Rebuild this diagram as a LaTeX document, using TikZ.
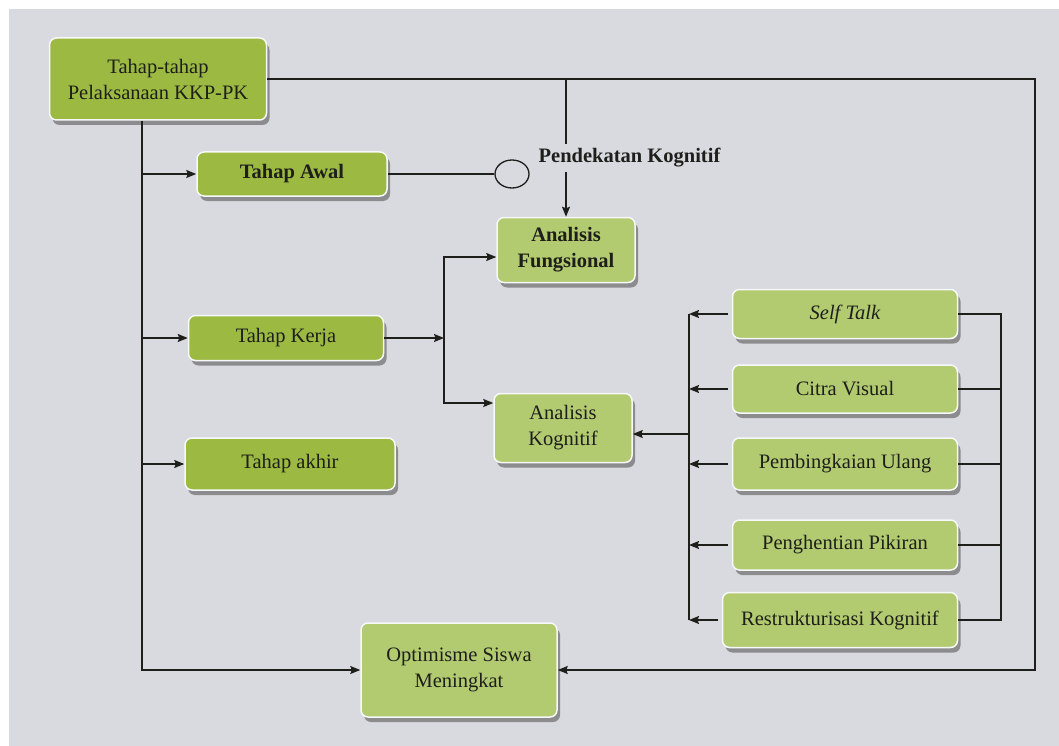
\documentclass[tikz,border=0pt]{standalone}
\usepackage{fontspec}
\setmainfont{Liberation Serif}
\usetikzlibrary{arrows.meta,shadows,shapes.geometric}
\definecolor{paper}{RGB}{216,218,224}
\definecolor{leafdark}{RGB}{156,186,66}
\definecolor{leaf}{RGB}{178,202,112}
\definecolor{ink}{RGB}{30,30,26}
\tikzset{
  box/.style={rectangle,rounded corners=7pt,fill=leaf,draw=white!80!paper,line width=1.5pt,
    drop shadow={shadow xshift=3pt,shadow yshift=-5pt,fill=black!55,opacity=.75},
    text=ink,align=center,inner sep=0pt,font=\fontsize{20.5}{26}\selectfont},
  boxdark/.style={box,fill=leafdark},
  boldtext/.style={font=\fontsize{20.5}{26}\selectfont\bfseries},
  arr/.style={-{Stealth[length=10pt,width=8pt,inset=1.5pt]}}
}
\begin{document}
\begin{tikzpicture}[x=1pt,y=-1pt,color=ink,line width=1.3pt]
            \fill[white] (0,0) rectangle (1059,746);
            \fill[paper] (9,9) rectangle (1059,746);
            \useasboundingbox (0,0) rectangle (1059,746);

            \node[boxdark,minimum width=217pt,minimum height=82pt] (tahap) at (158,79) {Tahap-tahap\\Pelaksanaan KKP-PK};
            \node[boxdark,boldtext,minimum width=190pt,minimum height=44pt] (awal) at (292,174) {Tahap Awal};
            \node[boxdark,minimum width=195pt,minimum height=45pt] (kerja) at (286,338) {Tahap Kerja};
            \node[boxdark,minimum width=210pt,minimum height=52pt] (akhir) at (290,464) {Tahap akhir};
            \node[box,boldtext,minimum width=138pt,minimum height=65pt] (fungsi) at (566,250) {Analisis\\Fungsional};
            \node[box,minimum width=138pt,minimum height=69pt] (kognisi) at (563,428) {Analisis\\Kognitif};
            \node[box,minimum width=225pt,minimum height=49pt] (self) at (845,314) {\textit{Self Talk}};
            \node[box,minimum width=225pt,minimum height=48pt] (citra) at (845,389) {Citra Visual};
            \node[box,minimum width=225pt,minimum height=52pt] (bingkai) at (845,464) {Pembingkaian Ulang};
            \node[box,minimum width=225pt,minimum height=50pt] (henti) at (845,545) {Penghentian Pikiran};
            \node[box,minimum width=235pt,minimum height=55pt] (restr) at (840,620) {Restrukturisasi Kognitif};
            \node[box,minimum width=196pt,minimum height=94pt] (optim) at (459,670) {Optimisme Siswa\\Meningkat};
            \node[ellipse,draw,minimum width=34pt,minimum height=28pt,inner sep=0pt] (bulat) at (512,174) {};
            \node[anchor=west,boldtext,inner sep=4pt] (pendekatan) at (534,158) {Pendekatan Kognitif};

            \coordinate (kiri) at (142,0);
            \coordinate (tengah) at (444,0);
            \coordinate (rapat) at (689,434);
            \coordinate (siku) at (1001,0);
            \coordinate (pojok) at (1035,670);

            \draw[arr] (tahap.south -| kiri) |- (optim.west);
            \foreach \n in {awal,kerja,akhir}
                \draw[arr] (\n.west -| kiri) -- (\n.west);
            \draw (awal.east) -- (bulat.west);
            \draw[arr] (tahap.east) -| (pojok) -- (optim.east);
            \draw (tahap.east -| fungsi.north) -- (pendekatan.north -| fungsi.north);
            \draw[arr] (pendekatan.south -| fungsi.north) -- (fungsi.north);

            \draw[arr] (kerja.east) -- (kerja.east -| tengah);
            \draw[arr] (kerja.east -| tengah) |- ([yshift=-7pt]fungsi.west);
            \draw[arr] (kerja.east -| tengah) |- ([yshift=25pt]kognisi.west);
            \draw[arr] (rapat) -- (rapat -| kognisi.east);

            \draw (self.west -| rapat) -- (restr.west -| rapat);
            \foreach \n in {self,citra,bingkai,henti,restr}
                \draw[arr,shorten <=4pt] (\n.west) -- (\n.west -| rapat);
            \draw (self.east) -| (restr.east -| siku) -- (restr.east);
            \foreach \n in {citra,bingkai,henti}
                \draw (\n.east) -- (\n.east -| siku);
        \end{tikzpicture}
\end{document}
